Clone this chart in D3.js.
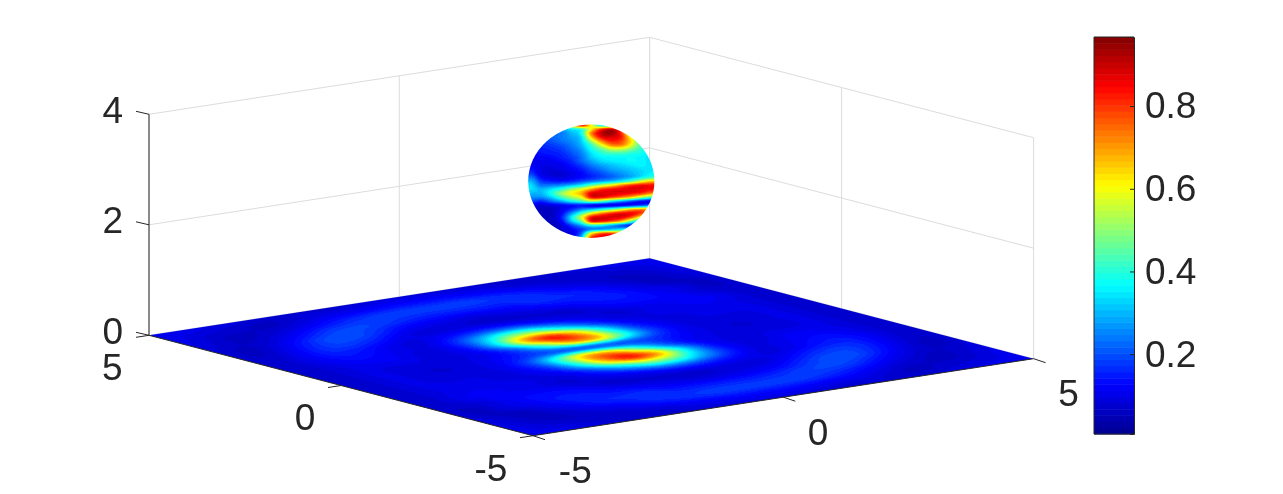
<!DOCTYPE html>
<html><head><meta charset="utf-8">
<script src="https://cdn.jsdelivr.net/npm/d3@7"></script>
<style>
html,body{margin:0;padding:0;background:#fff;overflow:hidden}
#wrap{position:relative;width:1283px;height:494px}
#wrap svg,#wrap canvas{position:absolute;left:0;top:0}
text{font-family:"Liberation Sans",Arial,sans-serif;font-size:37px;fill:#262626}
</style></head><body><div id="wrap"></div>
<script>
// Floor intensity (hundredths), rows y = 5 .. -5, columns x = -5 .. 5
const floorValues = [
[11,11,10,9,8,7,8,7,8,9,9,9,8,8,7,7,8,9,10,11,11],
[11,9,8,7,6,8,10,11,12,13,13,13,12,11,9,8,7,7,8,9,11],
[10,8,6,7,9,12,15,17,18,18,18,18,17,16,14,11,9,7,6,8,10],
[9,7,7,10,14,18,19,18,16,15,15,15,15,17,16,15,12,9,6,7,9],
[8,6,9,14,19,20,17,13,11,10,9,10,11,13,14,15,14,11,9,6,8],
[7,7,11,16,18,16,12,9,9,9,8,8,8,8,11,13,13,12,9,7,7],
[7,8,12,15,14,11,9,12,16,20,20,15,11,9,8,10,11,12,11,8,7],
[7,8,11,13,12,10,10,17,31,46,49,36,21,12,9,10,10,11,10,8,7],
[7,8,10,11,11,9,10,17,38,69,82,66,38,18,11,9,10,10,10,8,7],
[7,8,10,9,9,9,10,13,23,44,67,66,42,21,12,9,9,9,10,8,7],
[7,8,10,9,8,9,11,15,20,22,22,22,20,15,11,9,8,9,10,8,7],
[7,8,10,9,9,9,12,21,42,66,67,44,23,13,10,9,9,9,10,8,7],
[7,8,10,10,10,9,11,18,38,66,82,69,38,17,10,9,11,11,10,8,7],
[7,8,10,11,10,10,9,12,21,36,49,46,31,17,10,10,12,13,11,8,7],
[7,8,11,12,11,10,8,9,11,15,20,20,16,12,9,11,14,15,12,8,7],
[7,7,9,12,13,13,11,8,8,8,8,9,9,9,12,16,18,16,11,7,7],
[8,6,9,11,14,15,14,13,11,10,9,10,11,13,17,20,19,14,9,6,8],
[9,7,6,9,12,15,16,17,15,15,15,15,16,18,19,18,14,10,7,7,9],
[10,8,6,7,9,11,14,16,17,18,18,18,18,17,15,12,9,7,6,8,10],
[11,9,8,7,7,8,9,11,12,13,13,13,12,11,10,8,6,7,8,9,11],
[11,11,10,9,8,7,7,8,8,9,9,9,8,7,8,7,8,9,10,11,11]
];
// Sphere intensity (hundredths) as seen on the projected disc, rows top to bottom, columns left to right
const sphereValues = [
[20,20,20,20,60,85,60,35,35,35,30,30,30],
[20,20,20,26,36,42,62,80,88,75,45,35,30],
[20,20,22,24,30,38,72,90,94,80,50,35,30],
[18,20,22,24,28,34,65,85,88,82,58,38,30],
[16,18,20,23,26,32,52,72,82,78,62,40,32],
[14,16,18,20,24,30,42,58,72,72,58,42,34],
[14,15,16,18,22,27,38,46,55,55,48,40,34],
[13,14,15,16,20,25,34,40,43,43,40,38,34],
[12,12,13,15,18,23,32,36,37,37,37,36,34],
[11,11,11,13,16,22,28,33,35,36,37,36,34],
[12,10,10,11,14,18,24,28,31,33,35,36,34],
[14,10,9,10,12,15,20,24,28,30,32,34,35],
[18,10,8,8,10,13,17,20,24,27,30,33,36],
[24,13,10,9,11,13,16,19,22,26,30,36,42],
[30,18,15,14,16,20,24,28,32,38,46,58,66],
[34,24,24,26,30,36,46,54,62,72,80,84,84],
[34,30,34,40,50,58,70,80,84,86,87,86,84],
[30,30,38,50,60,68,86,87,87,86,84,80,72],
[26,26,32,42,52,60,84,84,78,72,64,52,42],
[20,16,22,28,36,42,50,46,36,28,20,14,12],
[12,8,10,12,14,15,12,11,11,13,16,20,26],
[10,6,6,10,16,24,30,38,46,56,66,70,66],
[10,6,6,12,26,42,60,72,80,85,85,78,60],
[10,6,6,14,34,56,84,88,88,86,76,55,30],
[10,6,6,12,30,46,82,82,76,66,45,25,20],
[10,8,6,8,18,28,40,38,30,22,16,14,14],
[10,8,8,8,12,18,26,28,32,36,38,30,20],
[10,8,8,8,10,22,60,76,78,68,50,30,20],
[10,8,8,8,10,30,78,86,85,70,50,30,20]
];
const xTicks = [-5,0,5];
const yTicks = [-5,0,5];
const zTicks = [0,2,4];
const colorbarTicks = [0.2,0.4,0.6,0.8];
const colorRange = [0.007,0.967];
const sphereCenter = [0,0,3];

const W=1283,H=494;
const ORIGIN=[591.3,347];
const xToPx=d3.scaleLinear().domain([-5,5]).range([-250.3,250.3]);
const xToPy=d3.scaleLinear().domain([-5,5]).range([38.5,-38.5]);
const yToPx=d3.scaleLinear().domain([-5,5]).range([192,-192]);
const yToPy=d3.scaleLinear().domain([-5,5]).range([50.2,-50.2]);
const zToPy=d3.scaleLinear().domain([0,4]).range([0,-221]);
const project=(x,y,z=0)=>[ORIGIN[0]+xToPx(x)+yToPx(y), ORIGIN[1]+xToPy(x)+yToPy(y)+zToPy(z)];

// jet colormap with MATLAB's 64 levels
const jet=d3.scaleLinear()
  .domain([0,0.125,0.375,0.625,0.875,1])
  .range(["#00008f","#0000ff","#00ffff","#ffff00","#ff0000","#800000"]);
const levels=d3.range(64).map(i=>jet((i+0.5)/64));
const color=d3.scaleQuantize().domain(colorRange).range(levels);
const rgbLevels=new Map(levels.map(c=>{const r=d3.rgb(c);return [c,[r.r,r.g,r.b]];}));

function cr(a,b,c,d,t){return b+0.5*t*(c-a+t*(2*a-5*b+4*c-d+t*(3*b-a-3*c+d)));}
function sample(g,r,c){
  const R=g.length-1,C=g[0].length-1;
  r=Math.max(0,Math.min(R,r));c=Math.max(0,Math.min(C,c));
  const r0=Math.min(R-1,Math.floor(r)),c0=Math.min(C-1,Math.floor(c)),tr=r-r0,tc=c-c0;
  const col=i=>{const row=g[Math.max(0,Math.min(R,i))];
    const at=j=>row[Math.max(0,Math.min(C,j))];
    return cr(at(c0-1),at(c0),at(c0+1),at(c0+2),tc);};
  return cr(col(r0-1),col(r0),col(r0+1),col(r0+2),tr)/100;
}

const wrap=d3.select("#wrap");
const back=wrap.append("svg").attr("width",W).attr("height",H);
const canvas=wrap.append("canvas").attr("width",W).attr("height",H);
const front=wrap.append("svg").attr("width",W).attr("height",H);
const ctx=canvas.node().getContext("2d");

// walls
const GRID="#dcdcdc";
const seg=(s,a,b,c,w=1)=>s.append("line").attr("x1",a[0]).attr("y1",a[1]).attr("x2",b[0]).attr("y2",b[1]).attr("stroke",c).attr("stroke-width",w);
xTicks.forEach(x=>seg(back,project(x,5,0),project(x,5,4),GRID));
yTicks.forEach(y=>seg(back,project(5,y,0),project(5,y,4),GRID));
zTicks.forEach(z=>{seg(back,project(-5,5,z),project(5,5,z),GRID);seg(back,project(5,5,z),project(5,-5,z),GRID);});

// offscreen painter
function paint(pathFn,valueAt){
  const off=document.createElement("canvas");off.width=W;off.height=H;
  const o=off.getContext("2d"),img=o.createImageData(W,H);
  for(let py=0;py<H;py++)for(let px=0;px<W;px++){
    const v=valueAt(px+0.5,py+0.5);if(v==null)continue;
    const k=rgbLevels.get(color(v)),i=(py*W+px)*4;
    img.data[i]=k[0];img.data[i+1]=k[1];img.data[i+2]=k[2];img.data[i+3]=255;
  }
  o.putImageData(img,0,0);
  ctx.save();ctx.beginPath();pathFn(ctx);ctx.clip();ctx.drawImage(off,0,0);ctx.restore();
}

// floor
const fx=xToPx(5)*2,fy=xToPy(5)*2,gx=yToPx(5)*2,gy=yToPy(5)*2,det=fx*gy-gx*fy;
const fracX=d3.scaleLinear().domain([-0.5,0.5]).range([-5,5]);
const floorCol=d3.scaleLinear().domain([-5,5]).range([0,20]);
const floorRow=d3.scaleLinear().domain([5,-5]).range([0,20]);
const corners=[project(-5,5),project(-5,-5),project(5,-5),project(5,5)];
paint(c=>{corners.forEach((p,i)=>i?c.lineTo(p[0],p[1]):c.moveTo(p[0],p[1]));c.closePath();},(px,py)=>{
  const dx=px-ORIGIN[0],dy=py-ORIGIN[1];
  const a=(dx*gy-gx*dy)/det,b=(fx*dy-fy*dx)/det;
  if(Math.abs(a)>0.52||Math.abs(b)>0.52)return null;
  return sample(floorValues,floorRow(fracX(b)),floorCol(fracX(a)));
});

// sphere
const C=project(...sphereCenter);
const rx=Math.hypot(xToPx(1)-xToPx(0),yToPx(1)-yToPx(0));
const ry=Math.hypot(xToPy(1)-xToPy(0),yToPy(1)-yToPy(0),zToPy(1)-zToPy(0));
const sphCol=d3.scaleLinear().domain([-0.96,0.96]).range([0,12]);
const sphRow=d3.scaleLinear().domain([-0.99,0.99]).range([0,28]);
paint(c=>c.ellipse(C[0],C[1],rx,ry,0,0,Math.PI*2),(px,py)=>{
  const u=(px-C[0])/rx,v=(py-C[1])/ry;
  if(u*u+v*v>1.1)return null;
  return sample(sphereValues,sphRow(v),sphCol(u));
});

// axes
const INK="#262626";
seg(front,project(-5,5,0),project(-5,5,4),INK);
seg(front,project(-5,5,0),project(-5,-5,0),INK);
seg(front,project(-5,-5,0),project(5,-5,0),INK);
zTicks.forEach(z=>{const p=project(-5,5,z);seg(front,p,[p[0]-13,p[1]-3],INK);});
yTicks.forEach(y=>{const p=project(-5,y,0);seg(front,p,[p[0]-13,p[1]+2],INK);});
xTicks.forEach(x=>{const p=project(x,-5,0);seg(front,p,[p[0]+12,p[1]+4],INK);});
const label=(t,p,dx,dy,a)=>front.append("text").text(t).attr("x",p[0]+dx).attr("y",p[1]+dy).attr("text-anchor",a);
const yNudge=new Map([[5,[-36.8,44.7]],[0,[-36,44]],[-5,[-42,45]]]);
const xNudge=new Map([[-5,[42.3,47]],[0,[34.7,47.8]],[5,[35,47]]]);
zTicks.forEach(z=>label(z,project(-5,5,z),-26,8.5,"end"));
yTicks.forEach(y=>label(y,project(-5,y,0),...yNudge.get(y),"middle"));
xTicks.forEach(x=>label(x,project(x,-5,0),...xNudge.get(x),"middle"));

// colorbar
const cbY=d3.scaleLinear().domain(colorRange).range([434,37]);
const cbX=1094,cbW=40;
const cb=front.append("g");
const step=(colorRange[1]-colorRange[0])/64;
cb.selectAll("rect").data(levels).join("rect")
  .attr("x",cbX).attr("width",cbW)
  .attr("y",(d,i)=>cbY(colorRange[0]+(i+1)*step))
  .attr("height",(d,i)=>cbY(colorRange[0]+i*step)-cbY(colorRange[0]+(i+1)*step)+0.5)
  .attr("fill",d=>d);
const axis=d3.axisRight(cbY).tickValues(colorbarTicks).tickSize(-4).tickPadding(11).tickFormat(d3.format(".1f"));
const ag=front.append("g").attr("transform",`translate(${cbX+cbW},0)`).call(axis);
ag.select(".domain").attr("stroke",INK);
ag.selectAll("line").attr("stroke",INK);
ag.selectAll("text").attr("fill",INK).style("font-size","37px").style("font-family",'"Liberation Sans",Arial,sans-serif');
seg(front,[cbX,37],[cbX,434],INK);seg(front,[cbX,37],[cbX+cbW,37],INK);seg(front,[cbX,434],[cbX+cbW,434],INK);
</script></body></html>
